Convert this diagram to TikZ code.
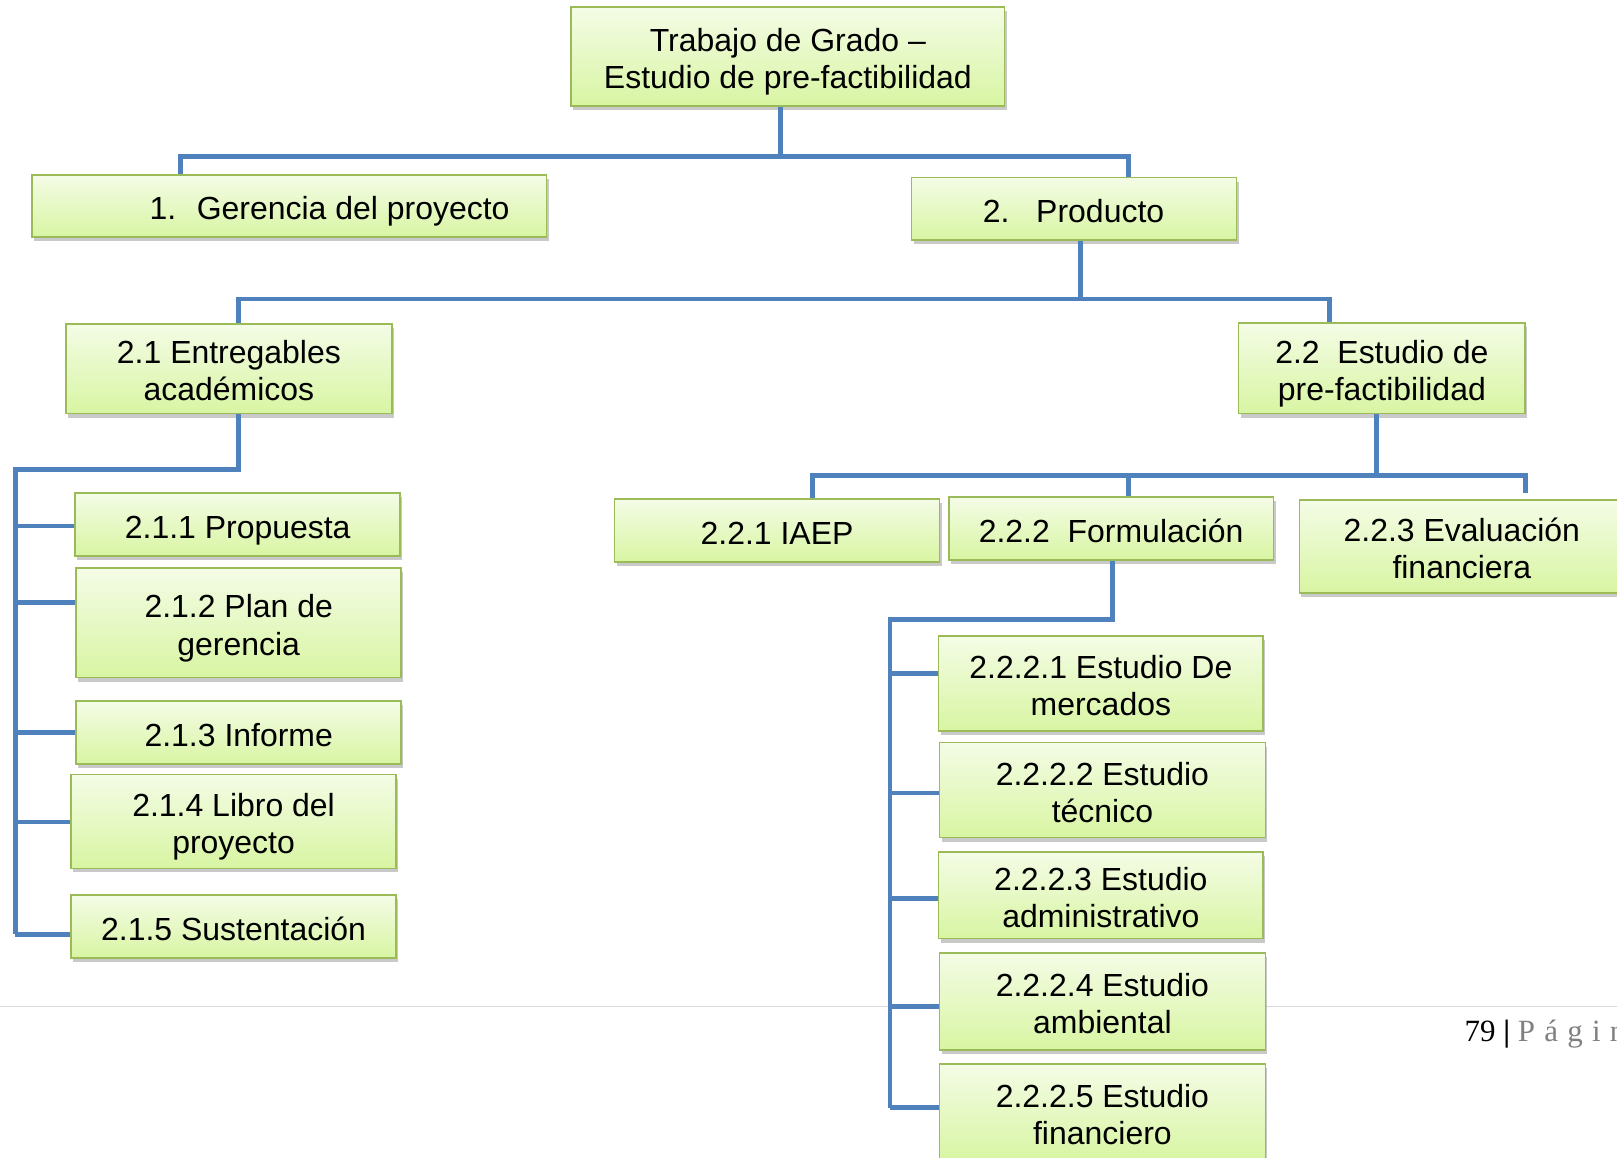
\documentclass[tikz,border=0pt]{standalone}
\usepackage{fontspec}
\setmainfont{Liberation Sans}
\newfontfamily\footfont{Liberation Serif}
\newfontfamily\footfontsp[LetterSpace=30]{Liberation Serif}
\usetikzlibrary{shadows}
\definecolor{boxborder}{HTML}{9BBB59}
\definecolor{boxtop}{HTML}{F4FCE6}
\definecolor{boxbot}{HTML}{D8F5A2}
\definecolor{conncol}{HTML}{4F81BD}
\definecolor{footgray}{HTML}{D9D9D9}
\definecolor{pagegray}{HTML}{808080}
\newcommand\wbt[1]{\raisebox{-6pt}[\height][\depth]{\begin{tabular}{@{}c@{}}#1\end{tabular}}}
\begin{document}
\begin{tikzpicture}[x=1pt,y=-1pt,
  wbs/.style={draw=boxborder, line width=1.6pt, top color=boxtop, bottom color=boxbot,
    inner sep=0pt, font=\fontsize{31}{36}\selectfont,
    drop shadow={shadow xshift=2pt, shadow yshift=-4pt, opacity=0.35, fill=black!60}},
  conn/.style={draw=conncol, line width=4.6pt, line join=miter}]
\useasboundingbox (0,0) rectangle (1568,1122);
\clip (0,0) rectangle (1568,1122);
\fill[white] (0,0) rectangle (1568,1122);

% footer
\draw[footgray, line width=1.5pt] (0,976) -- (1568,976);
\node[anchor=base west, inner sep=0pt, font=\footfont\fontsize{30}{36}\selectfont] (pg) at (1420,1010)
  {79 \textbf{|} {\color{pagegray}\footfontsp Página}};

% boxes
\node[wbs, minimum width=420pt, minimum height=96pt] (top) at (764,55) {\wbt{Trabajo de Grado --\\Estudio de pre-factibilidad}};
\node[wbs, minimum width=499pt, minimum height=60pt] (ger) at (280.5,200)
  {\wbt{\makebox[499pt][l]{\hspace{114pt}1.\hspace{20pt}Gerencia del proyecto}}};
\node[wbs, minimum width=315pt, minimum height=61pt] (prod) at (1041.5,202.5)
  {\wbt{\makebox[315pt][l]{\hspace{69pt}2.\hspace{26pt}Producto}}};
\node[wbs, minimum width=316pt, minimum height=87pt] (e21) at (222,357.5) {\wbt{2.1 Entregables\\académicos}};
\node[wbs, minimum width=278pt, minimum height=88pt] (e22) at (1340,357) {\wbt{2.2\ \ Estudio de\\pre-factibilidad}};

\node[wbs, minimum width=315pt, minimum height=61pt] (p211) at (230.5,508.5) {\wbt{2.1.1 Propuesta}};
\node[wbs, minimum width=315pt, minimum height=106pt] (p212) at (231.5,604) {\wbt{2.1.2 Plan de\\gerencia}};
\node[wbs, minimum width=315pt, minimum height=61pt] (p213) at (231.5,710.5) {\wbt{2.1.3 Informe}};
\node[wbs, minimum width=315pt, minimum height=91pt] (p214) at (226.5,796.5) {\wbt{2.1.4 Libro del\\proyecto}};
\node[wbs, minimum width=315pt, minimum height=61pt] (p215) at (226.5,898.5) {\wbt{2.1.5 Sustentación}};

\node[wbs, minimum width=315pt, minimum height=61pt] (p221) at (753.5,514.5) {\wbt{2.2.1 IAEP}};
\node[wbs, minimum width=315pt, minimum height=61pt] (p222) at (1077.5,512.5) {\wbt{2.2.2\ \ Formulación}};
\node[wbs, minimum width=315pt, minimum height=90pt] (p223) at (1417.5,530) {\wbt{2.2.3 Evaluación\\financiera}};

\node[wbs, minimum width=315pt, minimum height=92pt] (q1) at (1067.5,663) {\wbt{2.2.2.1 Estudio De\\mercados}};
\node[wbs, minimum width=316pt, minimum height=92pt] (q2) at (1069,766) {\wbt{2.2.2.2 Estudio\\técnico}};
\node[wbs, minimum width=315pt, minimum height=84pt] (q3) at (1067.5,868) {\wbt{2.2.2.3 Estudio\\administrativo}};
\node[wbs, minimum width=316pt, minimum height=94pt] (q4) at (1069,971) {\wbt{2.2.2.4 Estudio\\ambiental}};
\node[wbs, minimum width=316pt, minimum height=94pt] (q5) at (1069,1079) {\wbt{2.2.2.5 Estudio\\financiero}};

% connectors level 1
\coordinate (a1) at (175,152);
\coordinate (a2) at (1094,152);
\draw[conn] (top.south -| 757,0) -- (757,152);
\draw[conn] (a1 |- ger.north) -- (a1) -- (a2) -- (a2 |- prod.north);

% level 2
\coordinate (b1) at (231,290);
\coordinate (b2) at (1289,290);
\draw[conn] (prod.south -| 1048,0) -- (1048,290);
\draw[conn] (b1 |- e21.north) -- (b1) -- (b2) -- (b2 |- e22.north);

% 2.1 branch
\coordinate (c0) at (15,455);
\draw[conn] (e21.south -| 231,0) -- (231,455) -- (c0) -- (15,906);
\draw[conn] (15,510) -- (p211.west |- 0,510);
\draw[conn] (15,584) -- (p212.west |- 0,584);
\draw[conn] (15,710) -- (p213.west |- 0,710);
\draw[conn] (15,797) -- (p214.west |- 0,797);
\draw[conn] (15,906) -- (p215.west |- 0,906);

% 2.2 branch
\coordinate (d1) at (788,461);
\coordinate (d2) at (1094,461);
\coordinate (d3) at (1479,461);
\draw[conn] (e22.south -| 1335,0) -- (1335,461);
\draw[conn] (d1 |- p221.north) -- (d1) -- (d3) -- (1479,478);
\draw[conn] (d2) -- (d2 |- p222.north);

% 2.2.2 branch
\coordinate (f0) at (863,601);
\draw[conn] (p222.south -| 1079,0) -- (1079,601) -- (f0) -- (863,1074);
\draw[conn] (863,653) -- (q1.west |- 0,653);
\draw[conn] (863,769) -- (q2.west |- 0,769);
\draw[conn] (863,871) -- (q3.west |- 0,871);
\draw[conn] (863,976) -- (q4.west |- 0,976);
\draw[conn] (863,1074) -- (q5.west |- 0,1074);
\end{tikzpicture}
\end{document}
